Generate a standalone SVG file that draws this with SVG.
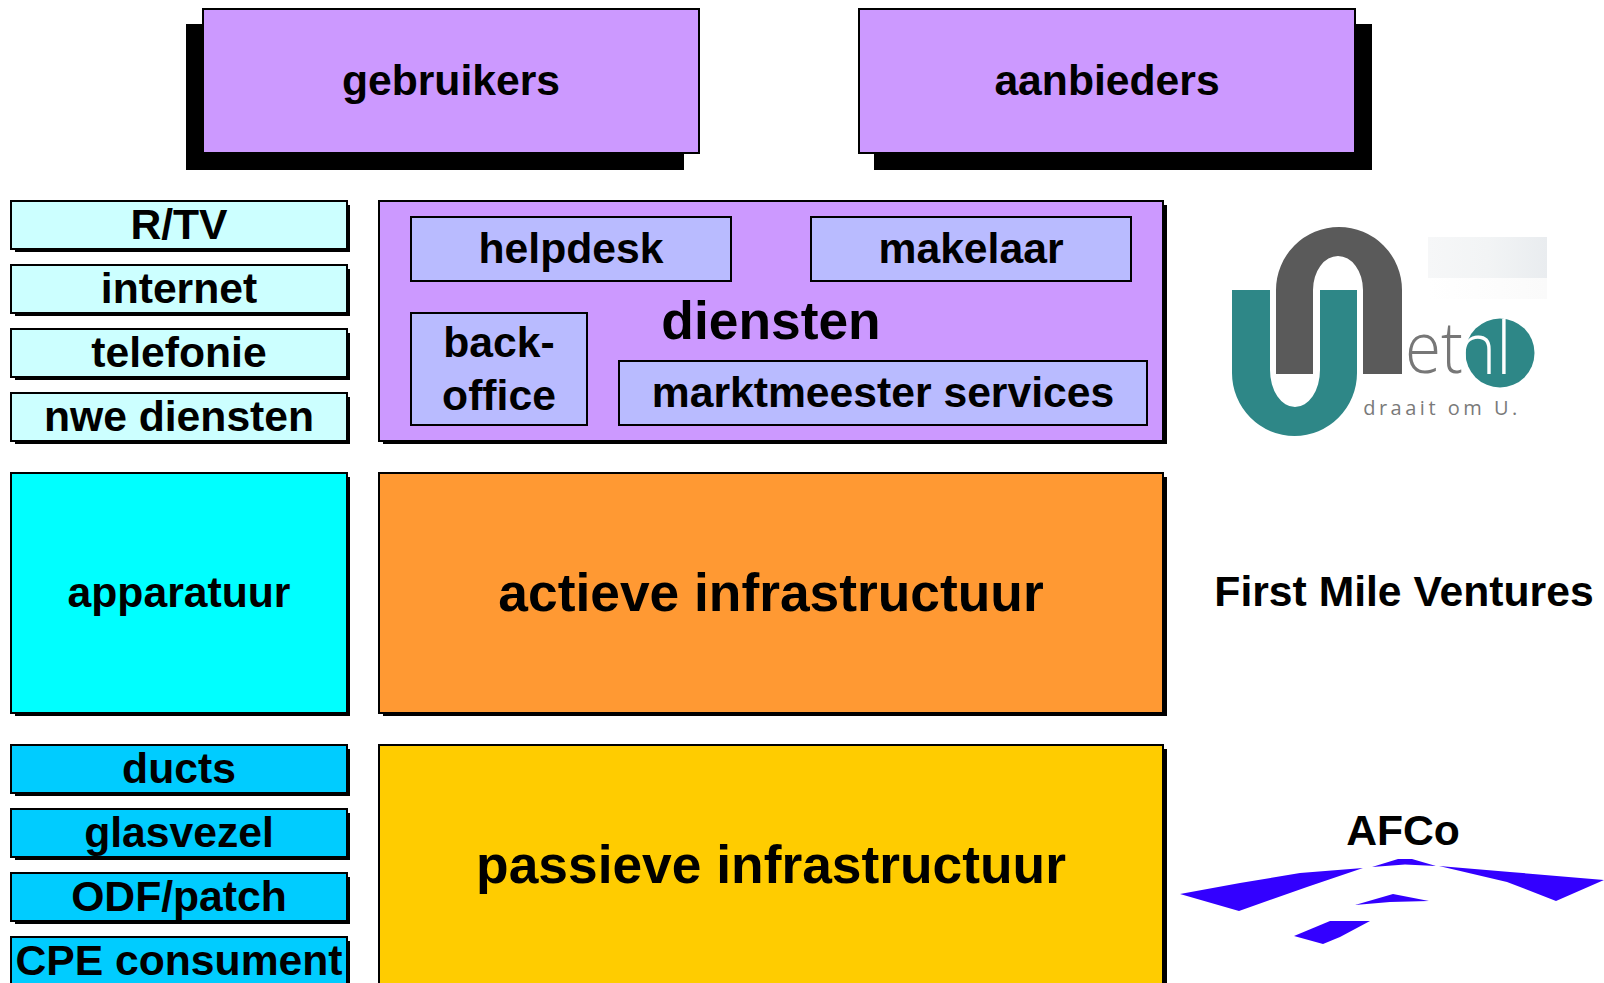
<svg xmlns="http://www.w3.org/2000/svg" width="1604" height="983" viewBox="0 0 1604 983">
<defs>
<linearGradient id="fade" x1="0" x2="1" y1="0" y2="0"><stop offset="0" stop-color="#f6f7f8"/><stop offset="0.5" stop-color="#f2f4f5"/><stop offset="1" stop-color="#e9ecef"/></linearGradient>
<linearGradient id="fade2" x1="0" x2="1" y1="0" y2="0"><stop offset="0" stop-color="#ffffff"/><stop offset="1" stop-color="#fafafa"/></linearGradient>
</defs>
<style>
text{font-family:"Liberation Sans",Arial,sans-serif;font-weight:700;fill:#000;text-anchor:middle}
.b{stroke:#000;stroke-width:2}
.s{fill:#000}
.pur{fill:#cc99ff}.lil{fill:#b9bbff}.pale{fill:#ccffff}.cy{fill:#00ffff}.sky{fill:#00ccff}.or{fill:#ff9933}.ye{fill:#ffcc00}
.t42{font-size:42.67px}.t53{font-size:53.33px}
.blue{fill:#3300ff}
</style>
<rect width="1604" height="983" fill="#fff"/>
<g id="gebruikers"><rect class="s" x="186" y="24" width="498" height="146"/><rect class="b pur" x="203" y="9" width="496" height="144"/><text class="t42" x="451" y="95">gebruikers</text></g>
<g id="aanbieders"><rect class="s" x="874" y="24" width="498" height="146"/><rect class="b pur" x="859" y="9" width="496" height="144"/><text class="t42" x="1107" y="95">aanbieders</text></g>

<g id="rtv"><rect class="s" x="15" y="205" width="335" height="47"/><rect class="b pale" x="11" y="201" width="336" height="48"/><text class="t42" x="179" y="239">R/TV</text></g>
<g id="internet"><rect class="s" x="15" y="269" width="335" height="47"/><rect class="b pale" x="11" y="265" width="336" height="48"/><text class="t42" x="179" y="303">internet</text></g>
<g id="telefonie"><rect class="s" x="15" y="333" width="335" height="47"/><rect class="b pale" x="11" y="329" width="336" height="48"/><text class="t42" x="179" y="367">telefonie</text></g>
<g id="nwe-diensten"><rect class="s" x="15" y="397" width="335" height="47"/><rect class="b pale" x="11" y="393" width="336" height="48"/><text class="t42" x="179" y="431">nwe diensten</text></g>

<g id="diensten"><rect class="s" x="383" y="205" width="784" height="239"/><rect class="b pur" x="379" y="201" width="784" height="240"/><text class="t53" x="771" y="339">diensten</text></g>
<g id="helpdesk"><rect class="b lil" x="411" y="217" width="320" height="64"/><text class="t42" x="571" y="263">helpdesk</text></g>
<g id="makelaar"><rect class="b lil" x="811" y="217" width="320" height="64"/><text class="t42" x="971" y="263">makelaar</text></g>
<g id="back-office"><rect class="b lil" x="411" y="313" width="176" height="112"/><text class="t42" x="499" y="357">back-</text><text class="t42" x="499" y="410">office</text></g>
<g id="marktmeester"><rect class="b lil" x="619" y="361" width="528" height="64"/><text class="t42" x="883" y="407">marktmeester services</text></g>

<g id="apparatuur"><rect class="s" x="15" y="477" width="335" height="239"/><rect class="b cy" x="11" y="473" width="336" height="240"/><text class="t42" x="179" y="607">apparatuur</text></g>
<g id="actieve"><rect class="s" x="383" y="477" width="784" height="239"/><rect class="b or" x="379" y="473" width="784" height="240"/><text class="t53" x="771" y="611">actieve infrastructuur</text></g>
<g id="first-mile"><text class="t42" x="1404" y="606">First Mile Ventures</text></g>

<g id="ducts"><rect class="s" x="15" y="749" width="335" height="47"/><rect class="b sky" x="11" y="745" width="336" height="48"/><text class="t42" x="179" y="783">ducts</text></g>
<g id="glasvezel"><rect class="s" x="15" y="813" width="335" height="47"/><rect class="b sky" x="11" y="809" width="336" height="48"/><text class="t42" x="179" y="847">glasvezel</text></g>
<g id="odf"><rect class="s" x="15" y="877" width="335" height="47"/><rect class="b sky" x="11" y="873" width="336" height="48"/><text class="t42" x="179" y="911">ODF/patch</text></g>
<g id="cpe"><rect class="s" x="15" y="941" width="335" height="47"/><rect class="b sky" x="11" y="937" width="336" height="48"/><text class="t42" x="179" y="975">CPE consument</text></g>
<g id="passieve"><rect class="s" x="383" y="749" width="784" height="239"/><rect class="b ye" x="379" y="745" width="784" height="240"/><text class="t53" x="771" y="883">passieve infrastructuur</text></g>

<g id="unet-logo">
<rect x="1428" y="237" width="119" height="41" fill="url(#fade)"/>
<rect x="1428" y="278" width="119" height="21" fill="url(#fade2)"/>
<path d="M1276 374V290A63 63 0 0 1 1402 290V374H1363V290A25 34 0 0 0 1313 290V374Z" fill="#5a5a5a"/>
<path d="M1232 290H1270V370A25 37 0 0 0 1320 370V290H1357V373A62.500 63 0 0 1 1232 373Z" fill="#2e8787"/>
<circle cx="1500" cy="353" r="34.500" fill="#2e8787"/>
<text x="1484" y="374" font-size="72" textLength="55" lengthAdjust="spacingAndGlyphs" style="font-family:'Open Sans',sans-serif;font-weight:300;fill:#fff">nl</text>
<text x="1434" y="373" font-size="72" textLength="58" lengthAdjust="spacingAndGlyphs" style="font-family:'Open Sans',sans-serif;font-weight:300;fill:#777">et</text>
<text x="1442" y="415" font-size="20" letter-spacing="3.500" style="font-family:'Open Sans',sans-serif;font-weight:400;fill:#7a7a7a">draait om U.</text>
</g>

<g id="afco"><text class="t42" x="1403" y="845">AFCo</text>
<path class="blue" d="M1180 894L1240 883L1300 873L1363 868L1307 887L1239 911Z"/>
<path class="blue" d="M1372 867L1398 859H1412L1436 866L1405 864.500Z"/>
<path class="blue" d="M1439 866L1510 872L1604 880L1556 901L1507 882Z"/>
<path class="blue" d="M1355 905L1393 894L1429 901L1390 902Z"/>
<path class="blue" d="M1294 936L1330 921H1370L1340 937L1323 944Z"/>
</g>
</svg>
